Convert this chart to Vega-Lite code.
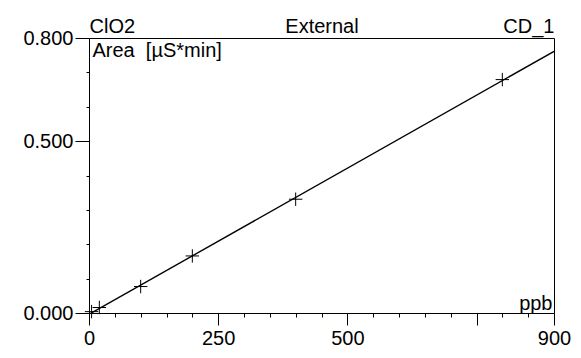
{
  "$schema": "https://vega.github.io/schema/vega-lite/v6.json",
  "width": 465,
  "height": 275,
  "autosize": "none",
  "padding": {"left": 89, "top": 38, "right": 27, "bottom": 45},
  "background": "white",
  "config": {
    "view": {"stroke": "black", "strokeWidth": 1},
    "axis": {
      "grid": false,
      "domainColor": "black",
      "tickColor": "black",
      "labelColor": "black",
      "titleColor": "black",
      "labelFont": "Liberation Sans",
      "titleFont": "Liberation Sans",
      "labelFontSize": 20,
      "titleFontSize": 20,
      "titleFontWeight": "normal",
      "labelFlush": false,
      "labelOverlap": false,
      "labelBound": false
    }
  },
  "data": {
    "values": [
      {"ppb": 5, "area": 0.004},
      {"ppb": 20, "area": 0.016},
      {"ppb": 100, "area": 0.077},
      {"ppb": 200, "area": 0.166},
      {"ppb": 400, "area": 0.331},
      {"ppb": 800, "area": 0.679}
    ]
  },
  "layer": [
    {
      "mark": {
        "type": "point",
        "shape": "M-1,0L1,0M0,-1L0,1",
        "filled": false,
        "stroke": "black",
        "strokeWidth": 1,
        "size": 180,
        "opacity": 1
      },
      "encoding": {
        "x": {
          "field": "ppb",
          "type": "quantitative",
          "scale": {"domain": [0, 900], "nice": false, "zero": false},
          "axis": {
            "orient": "bottom",
            "values": [0, 50, 100, 150, 200, 250, 300, 350, 400, 450, 500, 550, 600, 650, 700, 750, 800, 850, 900],
            "tickSize": {"condition": {"test": "datum.value % 250 === 0 || datum.value === 900", "value": 12}, "value": 4},
            "labelExpr": "datum.value === 0 || datum.value === 250 || datum.value === 500 || datum.value === 900 ? datum.label : ''",
            "labelPadding": 3,
            "title": "ppb",
            "titleAngle": 0,
            "titleX": 463,
            "titleY": -4,
            "titleAlign": "right",
            "titleBaseline": "alphabetic"
          }
        },
        "y": {
          "field": "area",
          "type": "quantitative",
          "scale": {"domain": [0, 0.8], "nice": false},
          "axis": {
            "values": [0, 0.1, 0.2, 0.3, 0.4, 0.5, 0.6, 0.7, 0.8],
            "tickSize": {"condition": {"test": "datum.value === 0 || datum.value === 0.5 || datum.value === 0.8", "value": 14}, "value": 3},
            "labelExpr": "datum.value === 0 || datum.value === 0.5 || datum.value === 0.8 ? format(datum.value, '.3f') : ''",
            "labelPadding": 2,
            "title": "Area\u00a0 [µS*min]",
            "titleAngle": 0,
            "titleX": 3,
            "titleY": 2,
            "titleAlign": "left",
            "titleBaseline": "top"
          }
        }
      }
    },
    {
      "transform": [
        {"regression": "area", "on": "ppb", "method": "linear", "extent": [0, 900]}
      ],
      "mark": {"type": "line", "color": "black", "strokeWidth": 1.4, "clip": true},
      "encoding": {
        "x": {
          "field": "ppb",
          "type": "quantitative",
          "axis": {
            "orient": "top",
            "values": [0, 450, 900],
            "labelExpr": "datum.value === 0 ? 'ClO2' : datum.value === 900 ? 'CD_1' : 'External'",
            "labelAlign": {"condition": [{"test": "datum.value === 0", "value": "left"}, {"test": "datum.value === 900", "value": "right"}], "value": "center"},
            "tickSize": 0,
            "domain": false,
            "labelPadding": 2,
            "labelFontSize": 20,
            "title": null
          }
        },
        "y": {"field": "area", "type": "quantitative", "axis": null}
      }
    }
  ],
  "resolve": {"axis": {"x": "independent", "y": "independent"}}
}
